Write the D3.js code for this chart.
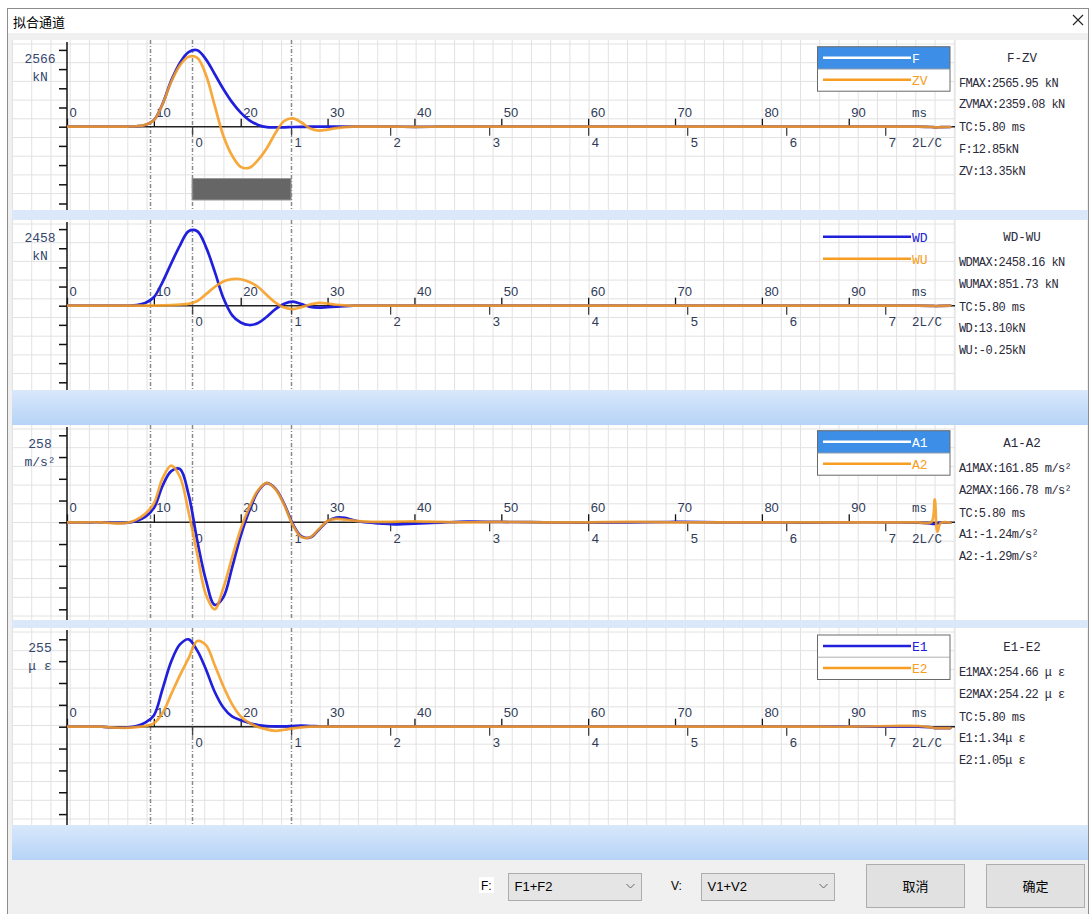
<!DOCTYPE html>
<html><head><meta charset="utf-8">
<script src="https://cdn.jsdelivr.net/npm/d3@7"></script>
<style>
body{margin:0;background:#fff;}
svg{display:block;}
</style></head><body>
<svg id="chart" width="1090" height="914"></svg>
<script>
// ---------------- DATA ----------------
const timeMs = [0,2,4,5,6,7,8,9,10,11,12,13,14,15,16,17,18,19,20,21,22,23,24,25,26,27,28,29,30,31,32,33,34,36,38,40,43,46,50,55,60,65,70,75,80,85,90,95,98,99.5,99.9,100.2,100.6,101.7];
const seriesF  = [0,0,0,0,2, 5,15,60,220,760,1540,2130,2490,2555,2250,1760,1260,820,470,210,60,-15,-25,-20,-10,-5,0,0,0,0,0,0,0, 5,0,-5,0,5, 0,0,0,0,0,0,0,0,0,0, 0,-10,-20,-20,-15,-10];
const seriesZV = [0,0,0,0,2, 5,15,60,215,750,1500,2050,2335,2300,1730,710,-300,-960,-1340,-1370,-1110,-720,-210,190,280,140,-60,-130,-95,-45,-15,0,5, 5,0,-5,0,5, 0,0,0,0,0,0,0,0,0,0, 0,-10,-20,-25,-15,-10];
const seriesWD = [0,0,0,0,2, 5,20,85,270,760,1360,1930,2390,2390,1880,1100,250,-300,-540,-620,-555,-354,-110,60,128,50,-40,-62,-45,-30,-12,0,0, 0,0,0,0,0, 0,0,0,0,0,0,0,0,0,0, 0,-5,-10,-10,-5,0];
const seriesWU = [0,0,0,0,0, 0,0,2,5,10,20,35,60,150,370,600,780,850,850,760,600,343,100,-60,-110,-45,40,90,70,30,10,0,0, 0,0,0,0,0, 0,0,0,0,0,0,0,0,0,0, 0,-5,-10,-10,-5,0];
const seriesA1 = [0,0,0,-1,-2, -1,4,16,42,108,152,158,82,-55,-172,-245,-222,-135,-40,35,92,116,100,55,-5,-42,-45,-22,3,14,13,6,1, -3,-6,-4,-1,2, 1,0,-1,0,1,0,0,-1,0,0, -1,-4,-5,-3,-1,-1];
const seriesA2 = [0,0,0,-2,-3, -1,8,25,56,130,168,135,30,-95,-215,-258,-195,-105,-20,45,95,117,98,52,-8,-44,-44,-20,4,10,8,5,3, 1,2,3,1,0, 1,0,0,1,0,0,0,0,0,0, 0,0,68,-28,-2,-1];
const seriesE1 = [0,0,0,-2,-3, -2,2,12,33,110,190,240,255,222,167,102,56,30,19,11,5,2,1,1,2,3,2,1,0,0,0,0,0, 0,0,0,0,0, 0,0,0,0,0,0,0,0,0,0, 0,-2,-4,-4,-4,-4];
const seriesE2 = [0,0,0,-2,-3, -3,-1,2,10,40,95,150,200,250,238,180,118,66,30,11,-1,-8,-12,-9,-5,-2,0,0,0,0,0,0,0, 0,0,0,0,0, 0,0,0,0,0,0,0,0,0,2, 2,-2,-4,-4,-4,-4];

const panelTitles = ["F-ZV","WD-WU","A1-A2","E1-E2"];
const axisMax = [2566, 2458, 258, 255];
const axisMaxLabels = ["2566","2458","258","255"];
const unitLabels = ["kN","kN","m/s²","μ ε"];
const legendNames = [["F","ZV"],["WD","WU"],["A1","A2"],["E1","E2"]];
const infoLines = [
  ["FMAX:2565.95 kN","ZVMAX:2359.08 kN","TC:5.80 ms","F:12.85kN","ZV:13.35kN"],
  ["WDMAX:2458.16 kN","WUMAX:851.73 kN","TC:5.80 ms","WD:13.10kN","WU:-0.25kN"],
  ["A1MAX:161.85 m/s²","A2MAX:166.78 m/s²","TC:5.80 ms","A1:-1.24m/s²","A2:-1.29m/s²"],
  ["E1MAX:254.66 μ ε","E2MAX:254.22 μ ε","TC:5.80 ms","E1:1.34μ ε","E2:1.05μ ε"]
];
const msTicks = [0,10,20,30,40,50,60,70,80,90];
const lcTicks = [0,1,2,3,4,5,6,7];
const lcZeroMs = 14.4, lcUnitMs = 11.4;
const markerMs = [9.6, 14.4, 25.8];
const windowTitle = "拟合通道";
const fSelect = "F1+F2", vSelect = "V1+V2";
const buttonLabels = ["取消","确定"];

// ---------------- LAYOUT ----------------
const panelSeries = [[seriesF,seriesZV],[seriesWD,seriesWU],[seriesA1,seriesA2],[seriesE1,seriesE2]];
const layout = [
  {top:40,  bottom:210, y0:126.7, step:19.2,  legendTop:46.7,  box:true,  sel:0, bar:true},
  {top:220, bottom:390, y0:305.7, step:19.15, legendTop:225.7, box:false, sel:-1},
  {top:425, bottom:620, y0:522.3, step:21.75, legendTop:430.7, box:true,  sel:0},
  {top:628, bottom:825, y0:726.7, step:21.85, legendTop:635,   box:true,  sel:-1}
];
const bands = [{y:210,h:10,g:false},{y:390,h:35,g:true},{y:620,h:8,g:false},{y:825,h:35,g:true}];
const BLUE="#2020dc", ORANGE="#f69d22", SELBG="#3c8ee6";
const MONO="'Liberation Mono', 'DejaVu Sans Mono', monospace";
const SANS="'Liberation Sans', Arial, sans-serif";
const CJK="'Noto Sans CJK SC', sans-serif";
const plotL=12, plotR=955, infoR=1087;

const svg = d3.select("#chart");
const defs = svg.append("defs");
const grad = defs.append("linearGradient").attr("id","bandGrad").attr("x1",0).attr("x2",0).attr("y1",0).attr("y2",1);
grad.append("stop").attr("offset","0%").attr("stop-color","#d9e8fb");
grad.append("stop").attr("offset","100%").attr("stop-color","#b6d3f6");

// window frame
svg.append("rect").attr("x",0).attr("y",0).attr("width",1090).attr("height",914).attr("fill","#fff");
svg.append("rect").attr("x",8).attr("y",33).attr("width",1081).attr("height",881).attr("fill","#f0f0f0");
svg.append("rect").attr("x",7.5).attr("y",8.5).attr("width",1081).attr("height",906).attr("fill","none").attr("stroke","#8c8c8c");
svg.append("text").attr("x",13).attr("y",27).attr("font-family",CJK).attr("font-size",13).attr("fill","#000").text(windowTitle);
svg.append("path").attr("d","M1073,15L1083,25M1083,15L1073,25").attr("stroke","#222").attr("stroke-width",1.1);

const x = d3.scaleLinear().domain([0,100]).range([67,935.6]);
const xlc = d3.scaleLinear().domain([0,7]).range([x(lcZeroMs), x(lcZeroMs+7*lcUnitMs)]);

layout.forEach((L,pi)=>{
  const g = svg.append("g");
  const max = axisMax[pi];
  const y = d3.scaleLinear().domain([-max,max]).range([L.y0+4*L.step, L.y0-4*L.step]);
  const yTop = y(max);
  g.append("rect").attr("x",plotL).attr("y",L.top).attr("width",infoR-plotL).attr("height",L.bottom-L.top).attr("fill","#fff");
  g.append("line").attr("x1",plotL+0.5).attr("x2",plotL+0.5).attr("y1",L.top).attr("y2",L.bottom).attr("stroke","#c8c8c8");
  const grid = g.append("g").attr("stroke","#e2e2e2").attr("stroke-width",1);
  for(let gx=plotL+0.5; gx<plotR; gx+=19.22) grid.append("line").attr("x1",gx).attr("x2",gx).attr("y1",L.top).attr("y2",L.bottom);
  for(let gy=L.top+4; gy<L.bottom; gy+=18.7) grid.append("line").attr("x1",plotL).attr("x2",plotR).attr("y1",gy).attr("y2",gy);
  if(L.bar){
    g.append("rect").attr("x",x(markerMs[1])).attr("y",178.5).attr("width",x(markerMs[2])-x(markerMs[1])).attr("height",21.5)
      .attr("fill","#666").attr("stroke","#9a9a9a").attr("stroke-width",1);
  }
  g.selectAll(".mk").data(markerMs).enter().append("line")
    .attr("x1",d=>Math.round(x(d))+0.5).attr("x2",d=>Math.round(x(d))+0.5).attr("y1",L.top).attr("y2",L.bottom)
    .attr("stroke","#8a8a8a").attr("stroke-width",1.5).attr("stroke-dasharray","4,2,1,2");
  const ya = g.append("g").attr("transform","translate(67,0)")
    .call(d3.axisLeft(y).tickValues(d3.range(-4,5).map(k=>k*max/4)).tickSize(8).tickFormat(""));
  ya.select(".domain").remove();
  ya.selectAll("line").attr("stroke","#111").attr("stroke-width",1.5);
  g.append("line").attr("x1",67).attr("x2",67).attr("y1",L.top+2).attr("y2",L.bottom).attr("stroke","#111").attr("stroke-width",1.5);
  g.append("line").attr("x1",67).attr("x2",plotR).attr("y1",L.y0).attr("y2",L.y0).attr("stroke","#222").attr("stroke-width",1.5);
  const xa = g.append("g").attr("transform",`translate(0,${L.y0})`)
    .call(d3.axisTop(x).tickValues(msTicks).tickSize(8).tickFormat(d3.format("d")));
  xa.select(".domain").remove();
  xa.selectAll("line").attr("stroke","#111").attr("stroke-width",1.3);
  xa.selectAll("text").attr("text-anchor","start").attr("x",2).attr("y",-10).attr("dy",null)
    .attr("font-family",SANS).attr("font-size",13).attr("fill","#2f3b58");
  const la = g.append("g").attr("transform",`translate(0,${L.y0})`)
    .call(d3.axisBottom(xlc).tickValues(lcTicks).tickSize(9).tickFormat(d3.format("d")));
  la.select(".domain").remove();
  la.selectAll("line").attr("stroke","#444").attr("stroke-width",1.3);
  la.selectAll("text").attr("text-anchor","start").attr("x",3).attr("y",20.5).attr("dy",null)
    .attr("font-family",SANS).attr("font-size",13).attr("fill","#2f3b58");
  g.append("text").attr("x",912).attr("y",L.y0-10).attr("font-family",MONO).attr("font-size",12.5).attr("fill","#2f3b58").text("ms");
  g.append("text").attr("x",912).attr("y",L.y0+20.5).attr("font-family",MONO).attr("font-size",12.5).attr("fill","#2f3b58").text("2L/C");
  g.append("text").attr("x",40).attr("y",yTop+13).attr("text-anchor","middle").attr("font-family",MONO).attr("font-size",13).attr("fill","#34466e").text(axisMaxLabels[pi]);
  g.append("text").attr("x",40).attr("y",yTop+31).attr("text-anchor","middle").attr("font-family",MONO).attr("font-size",13).attr("fill","#34466e").text(unitLabels[pi]);
  const clipId = "clip"+pi;
  defs.append("clipPath").attr("id",clipId).append("rect").attr("x",67).attr("y",L.top).attr("width",plotR-67).attr("height",L.bottom-L.top);
  const line = d3.line().x((d,i)=>x(timeMs[i])).y(d=>y(d)).curve(d3.curveCatmullRom.alpha(0.5));
  const cg = g.append("g").attr("clip-path",`url(#${clipId})`).attr("fill","none").attr("stroke-linejoin","round").attr("stroke-linecap","round");
  cg.append("path").attr("d",line(panelSeries[pi][0])).attr("stroke",BLUE).attr("stroke-width",2.7);
  cg.append("path").attr("d",line(panelSeries[pi][1])).attr("stroke",ORANGE).attr("stroke-width",2.7).attr("stroke-opacity",0.88);
  g.append("rect").attr("x",plotR).attr("y",L.top).attr("width",infoR-plotR).attr("height",L.bottom-L.top).attr("fill","#fff");
  g.append("line").attr("x1",plotR+0.5).attr("x2",plotR+0.5).attr("y1",L.top).attr("y2",L.bottom).attr("stroke","#ececec");
  const ty = yTop+12;
  g.append("text").attr("x",1022).attr("y",ty).attr("text-anchor","middle").attr("font-family",MONO).attr("font-size",12.5).attr("fill","#2a2a3a").text(panelTitles[pi]);
  const offs=[25,46.5,69.5,91,112.7];
  infoLines[pi].forEach((s,i)=>{
    g.append("text").attr("x",959).attr("y",ty+offs[i]).attr("font-family",MONO).attr("font-size",12).attr("letter-spacing",-0.6).attr("fill","#2a2a3a").text(s);
  });
  const lx0=817.5, lx1=950, lt=L.legendTop;
  if(L.box){
    g.append("rect").attr("x",lx0).attr("y",lt).attr("width",lx1-lx0).attr("height",44.5).attr("fill","#fff");
    if(L.sel===0) g.append("rect").attr("x",lx0).attr("y",lt).attr("width",lx1-lx0).attr("height",22.5).attr("fill",SELBG);
    g.append("rect").attr("x",lx0).attr("y",lt).attr("width",lx1-lx0).attr("height",44.5).attr("fill","none").attr("stroke","#6a6a6a").attr("stroke-width",1);
    g.append("line").attr("x1",lx0).attr("x2",lx1).attr("y1",lt+22.2).attr("y2",lt+22.2).attr("stroke","#9a9a9a").attr("stroke-width",0.8);
  }
  legendNames[pi].forEach((nm,i)=>{
    const cy = lt+11+i*22;
    const selected = (L.sel===i);
    const col = selected ? "#fff" : (i===0?BLUE:ORANGE);
    g.append("line").attr("x1",823).attr("x2",911).attr("y1",cy).attr("y2",cy).attr("stroke",col).attr("stroke-width",2.4);
    g.append("text").attr("x",912).attr("y",cy+5).attr("font-family",MONO).attr("font-size",13).attr("fill",col).text(nm);
  });
});

bands.forEach(b=>{
  svg.append("rect").attr("x",plotL).attr("y",b.y).attr("width",infoR+1-plotL).attr("height",b.h)
    .attr("fill", b.g ? "url(#bandGrad)" : "#dbe8fa");
});

const bt = svg.append("g");
bt.append("rect").attr("x",479).attr("y",877).attr("width",15).attr("height",16).attr("fill","#fff");
bt.append("text").attr("x",481).attr("y",890).attr("font-family",SANS).attr("font-size",12).attr("fill","#000").text("F:");
bt.append("text").attr("x",671).attr("y",890).attr("font-family",SANS).attr("font-size",12).attr("fill","#000").text("V:");
[[508.5,fSelect],[701.5,vSelect]].forEach(([sx,lab])=>{
  bt.append("rect").attr("x",sx).attr("y",873.5).attr("width",133).attr("height",27).attr("fill","#e5e5e5").attr("stroke","#adadad");
  bt.append("text").attr("x",sx+6).attr("y",891).attr("font-family",SANS).attr("font-size",13).attr("fill","#000").text(lab);
  const cx=sx+122;
  bt.append("path").attr("d",`M${cx-4},${884}L${cx},${888}L${cx+4},${884}`).attr("fill","none").attr("stroke","#666").attr("stroke-width",1);
});
[[866.5,buttonLabels[0]],[986.5,buttonLabels[1]]].forEach(([bx,lab])=>{
  bt.append("rect").attr("x",bx).attr("y",864.5).attr("width",98).attr("height",43).attr("fill","#e1e1e1").attr("stroke","#adadad");
  bt.append("text").attr("x",bx+49).attr("y",891).attr("text-anchor","middle").attr("font-family",CJK).attr("font-size",13).attr("fill","#000").text(lab);
});
</script>
</body></html>
